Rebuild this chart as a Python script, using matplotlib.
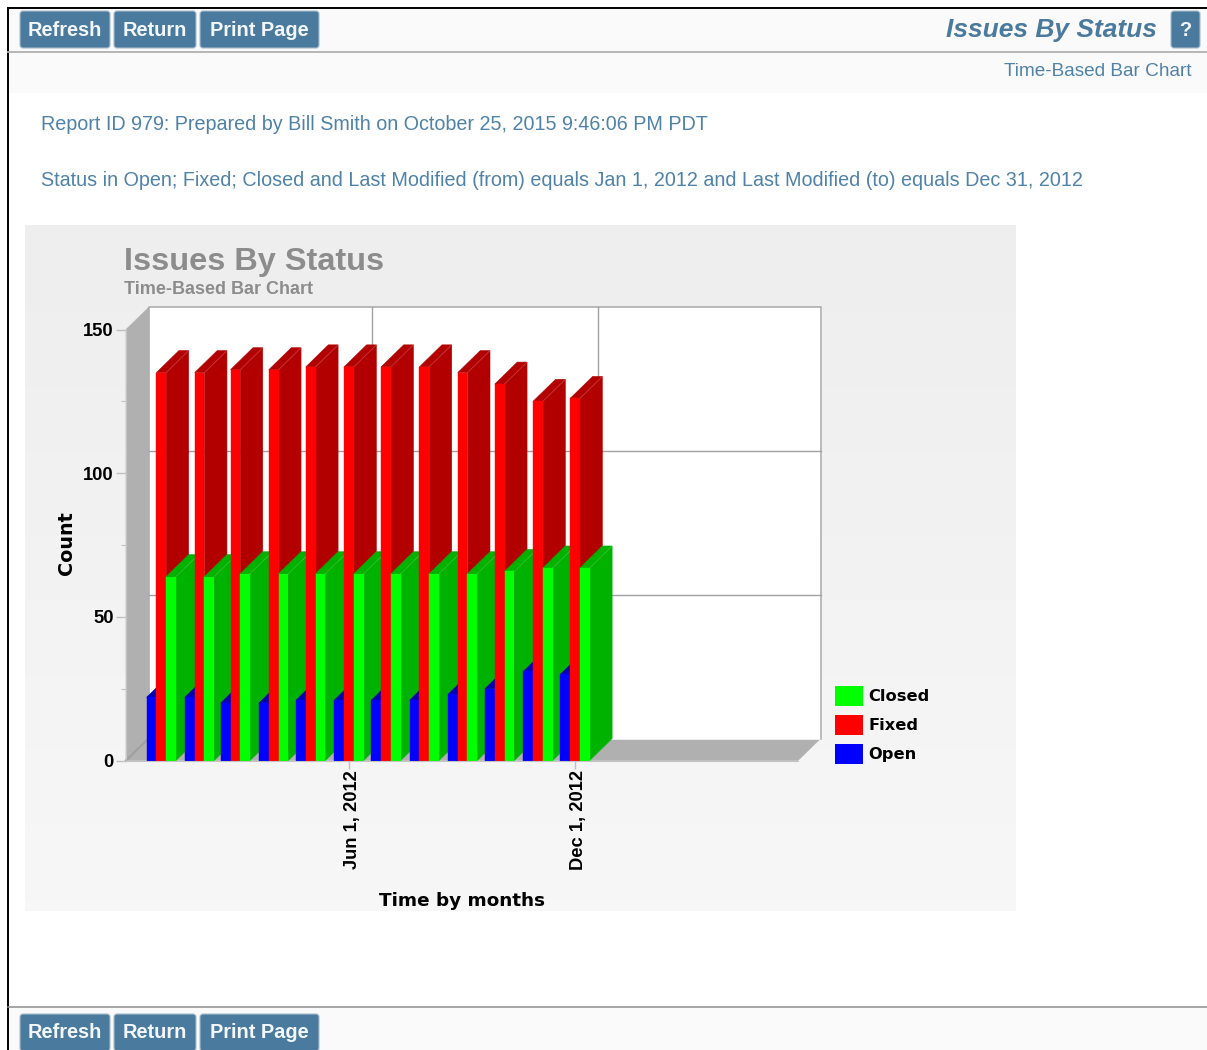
import datetime as dt
import numpy as np
import matplotlib
matplotlib.use("Agg")
import matplotlib.pyplot as plt
import matplotlib.dates as mdates
from matplotlib.patches import FancyBboxPatch, Patch, Rectangle
from matplotlib.transforms import ScaledTranslation

# values
months = [dt.date(2012, m, 1) for m in range(1, 13)]
closed = [64, 64, 65, 65, 65, 65, 65, 65, 65, 65.8, 67, 67]
fixed = [135, 135, 136, 136, 137, 137, 137, 137, 135, 131, 125, 126]
opened = [22, 22, 20, 20, 21, 21, 21, 21, 23, 25, 31, 30]
y_major = [0, 50, 100, 150]
y_minor = [25, 75, 125]
x_ticks = [dt.date(2012, 6, 1), dt.date(2012, 12, 1)]
x_tick_labels = ["Jun 1, 2012", "Dec 1, 2012"]

W, H = 1207, 1050
BLUE = "#4a7a9e"
TEXT = "#4f82a8"

fig = plt.figure(figsize=(W / 100, H / 100), dpi=100, facecolor="white")


def px_axes(x0, y0, x1, y1):
    return [x0 / W, 1 - y1 / H, (x1 - x0) / W, (y1 - y0) / H]


# page around the chart, in pixels
page = fig.add_axes([0, 0, 1, 1], zorder=0)
page.set_xlim(0, W)
page.set_ylim(H, 0)
page.axis("off")


def button(x0, x1, y0, y1, label):
    page.add_patch(FancyBboxPatch((x0 + 3, y0 + 3), x1 - x0 - 6, y1 - y0 - 6,
                                  boxstyle="round,pad=3", fc=BLUE, ec="#a9bccb", lw=0.8))
    page.text((x0 + x1) / 2, (y0 + y1) / 2 + 0.5, label, color="#f2f7fb", fontsize=14.4,
              fontweight="bold", family="Liberation Sans", ha="center", va="center")


page.add_patch(Rectangle((8, 9), W - 8, 84, fc="#fafafa", ec="none"))
page.add_patch(Rectangle((8, 1008), W - 8, 42, fc="#fafafa", ec="none"))
page.plot([8, 8], [8, H], color="black", lw=1.4)
page.plot([8, W], [8, 8], color="black", lw=1.4)
page.plot([8, W], [52, 52], color="#b0b0b0", lw=1.3)
page.plot([8, W], [1007, 1007], color="#8c8c8c", lw=1.1)

for top, bottom in [(11, 48), (1014, 1051)]:
    button(20, 110, top, bottom, "Refresh")
    button(114, 196, top, bottom, "Return")
    button(200, 319, top, bottom, "Print Page")
button(1171, 1200, 11, 48, "?")

page.text(1157, 30, "Issues By Status", color=BLUE, fontsize=19, fontweight="bold",
          style="italic", family="Liberation Sans", ha="right", va="center")
page.text(1192, 71, "Time-Based Bar Chart", color=TEXT, fontsize=13.65,
          family="Liberation Sans", ha="right", va="center")
page.text(41, 124, "Report ID 979: Prepared by Bill Smith on October 25, 2015 9:46:06 PM PDT",
          color=TEXT, fontsize=14.22, family="Liberation Sans", va="center")
page.text(41, 180, "Status in Open; Fixed; Closed and Last Modified (from) equals Jan 1, 2012 "
          "and Last Modified (to) equals Dec 31, 2012",
          color=TEXT, fontsize=14.2, family="Liberation Sans", va="center")

# chart panel
gradient = np.linspace(0, 1, 64).reshape(-1, 1)
page.imshow(gradient, extent=(25, 1016, 911, 225), cmap=matplotlib.colors.LinearSegmentedColormap.from_list(
    "panel", ["#eeeeee", "#f7f7f7"]), aspect="auto", zorder=1)
page.set_xlim(0, W)
page.set_ylim(H, 0)
page.text(124, 262, "Issues By Status", color="#8c8c8c", fontsize=23.4, fontweight="bold",
          family="Liberation Sans", va="center", zorder=2)
page.text(124, 289, "Time-Based Bar Chart", color="#8c8c8c", fontsize=13, fontweight="bold",
          family="Liberation Sans", va="center", zorder=2)

# plot area: front plane of the 3D box
ax = fig.add_axes(px_axes(126, 329.5, 798, 760.5), zorder=1)
ax.patch.set_alpha(0)

x = mdates.date2num(months)
px_day = 226 / 183
jun1 = mdates.date2num(x_ticks[0])
xmin, xmax = jun1 - 223 / px_day, jun1 + 449 / px_day
ax.set_xlim(xmin, xmax)
ax.set_ylim(0, 150)

depth_x = 22.5 / px_day
depth_y = 22 * 150 / 431
bar_w = 9.75 / px_day


def poly(xs, ys, color, z):
    ax.fill(xs, ys, fc=color, ec=color, lw=0.4, clip_on=False, zorder=z)


# walls
poly([xmin, xmin + depth_x, xmin + depth_x, xmin], [0, depth_y, 150 + depth_y, 150], "#b0b0b0", 1)
poly([xmin, xmax, xmax + depth_x, xmin + depth_x], [0, 0, depth_y, depth_y], "#b0b0b0", 1)
ax.plot([xmin, xmin + depth_x], [0, depth_y], color="#a0a0a0", lw=1.6, clip_on=False, zorder=1.5)
poly([xmin + depth_x, xmax + depth_x, xmax + depth_x, xmin + depth_x],
     [depth_y, depth_y, 150 + depth_y, 150 + depth_y], "white", 1)
ax.plot([xmin + depth_x, xmin + depth_x, xmax + depth_x, xmax + depth_x],
        [depth_y, 150 + depth_y, 150 + depth_y, depth_y], color="#a8a8a8", lw=1.1, clip_on=False, zorder=2)
for v in y_major[1:3]:
    ax.plot([xmin + depth_x, xmax + depth_x], [v + depth_y] * 2, color="#a0a0a0", lw=1.0,
            clip_on=False, zorder=2)
for t in x_ticks:
    d = mdates.date2num(t) + depth_x
    ax.plot([d, d], [depth_y, 150 + depth_y], color="#a0a0a0", lw=1.0, clip_on=False, zorder=2)

# bars, month by month so later ones cover the side of earlier ones
series = [(opened, "#0000ff", "#0000b2", -1), (fixed, "#ff0000", "#b20000", 0), (closed, "#00ff00", "#00b200", 1)]
z = 3
for i, center in enumerate(x):
    for values, front, dark, offset in series:
        v = values[i]
        x0 = center + (offset - 0.5) * bar_w
        x1 = x0 + bar_w
        poly([x1, x1 + depth_x, x1 + depth_x, x1], [0, depth_y, v + depth_y, v], dark, z)
        poly([x0, x1, x1 + depth_x, x0 + depth_x], [v, v, v + depth_y, v + depth_y], dark, z + 0.1)
        ax.plot([x1, x1 + depth_x], [v, v + depth_y], color="white", alpha=0.18, lw=0.7,
                clip_on=False, zorder=z + 0.2)
        ax.bar(x0, v, bar_w, align="edge", color=front, ec=front, lw=0.3, clip_on=False, zorder=z + 0.3)
        z += 1

for side in ["top", "right"]:
    ax.spines[side].set_visible(False)
for side in ["left", "bottom"]:
    ax.spines[side].set_color("#c4c4c4")
    ax.spines[side].set_zorder(100)

ax.set_yticks(y_major)
ax.set_yticks(y_minor, minor=True)
ax.set_xticks(mdates.date2num(x_ticks))
ax.set_xticklabels(x_tick_labels, rotation=90, ha="center", va="top")
ax.tick_params(axis="y", which="major", length=7, width=1, color="#c0c0c0", pad=2)
ax.tick_params(axis="y", which="minor", length=3.5, width=0.8, color="#c0c0c0")
ax.tick_params(axis="x", which="major", length=6, width=1, color="#c0c0c0", pad=1)
shift = ScaledTranslation(3 / 100, 0, fig.dpi_scale_trans)
for lab in ax.get_xticklabels():
    lab.set_transform(lab.get_transform() + shift)
for lab in ax.get_xticklabels() + ax.get_yticklabels():
    lab.set_fontsize(13.2)
    lab.set_fontweight("bold")
    lab.set_family("Liberation Sans")

ax.set_ylabel("Count", fontsize=13.8, fontweight="bold", family="DejaVu Sans")
ax.yaxis.set_label_coords(-50 / 672, 0.5 + 2 / 431)
ax.set_xlabel("Time by months", fontsize=13.2, fontweight="bold", family="DejaVu Sans")
ax.xaxis.set_label_coords(0.5, -141 / 431)
ax.xaxis.label.set_va("center")

handles = [Patch(fc="#00ff00", ec="none", label="Closed"), Patch(fc="#ff0000", ec="none", label="Fixed"),
           Patch(fc="#0000ff", ec="none", label="Open")]
ax.legend(handles=handles, loc="lower left", bbox_to_anchor=(835 / W, 1 - 763.5 / H),
          bbox_transform=fig.transFigure, frameon=False, borderpad=0, borderaxespad=0,
          handlelength=1.74, handleheight=1.5, labelspacing=0.55, handletextpad=0.3,
          prop={"size": 11.7, "weight": "bold", "family": "DejaVu Sans"})

fig.savefig("out.png", dpi=100)
